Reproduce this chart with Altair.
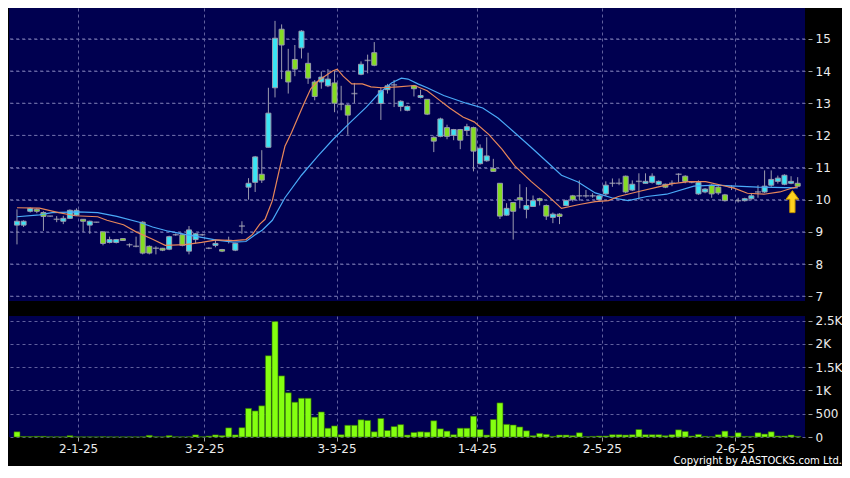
import altair as alt
import pandas as pd

# ---------------- data ----------------
opens = [9.21, 9.21, 9.64, 9.70, 9.60, 9.49, 9.39, 9.33, 9.42, 9.52,
         9.39, 9.21, 9.30, 9.00, 8.67, 8.67, 8.79, 8.60, 8.55, 9.30,
         8.55, 8.49, 8.49, 8.46, 8.91, 8.91, 8.40, 8.76, 8.91, 8.49,
         8.58, 8.45, 8.73, 8.43, 9.18, 10.39, 10.54, 10.79, 11.63, 13.48,
         15.30, 14.00, 14.36, 14.72, 14.24, 13.66, 13.66, 13.54, 13.63, 12.97,
         12.94, 13.30, 13.90, 14.33, 14.57, 12.99, 13.42, 13.57, 12.90, 12.78,
         13.54, 13.18, 13.12, 11.94, 11.97, 12.24, 12.00, 12.18, 12.15, 12.24,
         11.12, 11.21, 10.97, 10.51, 9.52, 9.91, 10.06, 9.70, 9.79, 10.03,
         9.82, 9.45, 9.55, 9.82, 10.12, 10.12, 10.12, 10.12, 10.00, 10.18,
         10.51, 10.51, 10.73, 10.30, 10.57, 10.51, 10.54, 10.48, 10.48, 10.51,
         10.79, 10.73, 10.54, 10.18, 10.24, 10.45, 10.39, 10.15, 10.39, 9.97,
         9.97, 10.03, 10.24, 10.24, 10.45, 10.57, 10.48, 10.51, 10.51]
highs = [9.70, 9.36, 9.76, 9.73, 9.64, 9.50, 9.49, 9.50, 9.70, 9.73,
         9.40, 9.35, 9.31, 9.00, 8.85, 8.78, 8.80, 8.64, 8.85, 9.33,
         8.58, 8.55, 8.50, 8.88, 8.95, 8.94, 9.18, 8.97, 8.94, 8.52,
         8.76, 8.47, 8.85, 8.66, 9.33, 10.67, 11.36, 11.54, 13.48, 15.56,
         15.45, 14.69, 14.81, 15.27, 14.57, 13.72, 13.99, 14.06, 14.00, 13.54,
         12.97, 13.63, 14.30, 14.51, 14.90, 13.48, 13.60, 13.72, 13.09, 12.93,
         13.57, 13.42, 13.12, 11.97, 12.55, 12.33, 12.20, 12.20, 12.36, 12.27,
         11.72, 11.94, 11.27, 10.51, 9.89, 9.93, 10.48, 10.39, 10.13, 10.06,
         9.85, 9.60, 9.58, 10.00, 10.15, 10.60, 10.30, 10.20, 10.15, 10.57,
         10.66, 10.66, 10.75, 10.60, 10.82, 10.82, 10.82, 10.60, 10.50, 10.60,
         10.82, 10.76, 10.57, 10.60, 10.36, 10.48, 10.42, 10.18, 10.45, 10.06,
         10.06, 10.21, 10.45, 10.91, 10.91, 10.75, 10.79, 10.73, 10.70]
lows = [8.61, 9.15, 9.60, 9.58, 9.03, 9.47, 9.30, 9.24, 9.40, 9.50,
        9.00, 8.94, 9.29, 8.58, 8.64, 8.64, 8.72, 8.52, 8.52, 8.30,
        8.30, 8.30, 8.40, 8.43, 8.88, 8.55, 8.30, 8.64, 8.88, 8.46,
        8.52, 8.37, 8.64, 8.40, 8.94, 10.00, 10.24, 10.52, 11.63, 13.18,
        13.75, 13.30, 13.84, 14.39, 13.60, 13.09, 13.45, 13.50, 12.72, 12.78,
        12.02, 13.00, 13.87, 13.93, 14.15, 12.48, 13.30, 12.88, 12.75, 12.75,
        13.21, 13.15, 12.63, 11.48, 11.94, 11.88, 11.85, 11.57, 12.00, 10.88,
        11.09, 11.18, 10.88, 9.40, 9.50, 8.76, 9.73, 9.42, 9.79, 9.82,
        9.37, 9.27, 9.24, 9.80, 9.94, 9.97, 10.06, 10.06, 9.97, 10.12,
        10.40, 10.45, 10.20, 10.27, 10.00, 10.50, 10.50, 10.45, 10.36, 10.42,
        10.54, 10.51, 10.51, 10.15, 10.20, 10.06, 10.15, 9.94, 10.30, 9.91,
        9.94, 10.00, 10.06, 10.20, 10.40, 10.50, 10.45, 10.48, 10.40]
closes = [9.33, 9.33, 9.73, 9.64, 9.48, 9.49, 9.39, 9.42, 9.67, 9.67,
          9.33, 9.33, 9.30, 8.64, 8.76, 8.76, 8.73, 8.60, 8.55, 8.34,
          8.34, 8.49, 8.43, 8.85, 8.91, 8.58, 9.06, 8.94, 8.91, 8.49,
          8.64, 8.40, 8.73, 8.64, 9.18, 10.51, 11.33, 10.61, 12.69, 15.02,
          14.81, 13.66, 14.06, 15.24, 13.78, 13.21, 13.81, 13.75, 13.00, 12.97,
          12.63, 13.30, 14.21, 14.33, 14.18, 13.39, 13.54, 13.57, 13.06, 12.90,
          13.45, 13.24, 12.66, 11.82, 12.51, 11.97, 12.18, 11.85, 12.27, 11.51,
          11.60, 11.36, 10.88, 9.49, 9.73, 9.64, 10.00, 9.82, 9.97, 9.97,
          9.49, 9.55, 9.48, 9.97, 10.00, 10.12, 10.12, 10.12, 10.12, 10.45,
          10.51, 10.51, 10.24, 10.48, 10.57, 10.57, 10.73, 10.57, 10.39, 10.51,
          10.79, 10.57, 10.54, 10.54, 10.33, 10.18, 10.21, 9.97, 10.39, 9.97,
          10.03, 10.12, 10.24, 10.42, 10.63, 10.67, 10.76, 10.57, 10.42]
volumes = [112, 12, 10, 14, 14, 5, 5, 4, 28, 5,
           4, 4, 3, 6, 4, 3, 3, 4, 3, 5,
           35, 6, 4, 30, 5, 4, 6, 45, 5, 20,
           45, 30, 196, 45, 200, 615, 560, 670, 1746, 2480,
           1313, 950, 748, 832, 832, 426, 538, 189, 238, 49,
           252, 252, 370, 356, 112, 398, 140, 224, 266, 42,
           98, 112, 105, 349, 175, 126, 49, 189, 189, 447,
           161, 42, 377, 733, 272, 258, 216, 133, 28, 77,
           56, 14, 42, 42, 28, 91, 7, 14, 21, 21,
           49, 49, 42, 49, 161, 49, 49, 49, 28, 49,
           154, 119, 21, 56, 14, 7, 49, 126, 14, 91,
           14, 14, 91, 63, 112, 21, 21, 42, 14]

# moving averages (position in trading-day index, value)
fast_idx = [0, 3.4, 6.3, 8.8, 12.2, 13.6, 16.1, 18, 20.5, 22.4, 25.4, 27.9,
            30.2, 32.7, 34.6, 35.6, 36.7, 37.5, 38.6, 39.6, 40.5, 41.5, 42.5,
            43.4, 44.4, 45.5, 46.3, 47.7, 48.4, 49.3, 50.6, 52.2, 53.5, 55.1,
            57.6, 60.1, 62, 63.5, 65.4, 67.4, 69.1, 71.3, 73.3, 75.2, 77.7,
            80.1, 82.3, 85, 87.4, 89.4, 90.9, 94.3, 96.8, 99.1, 101.6, 104.1,
            106.5, 108.5, 110.4, 112.9, 115.3, 117.3, 118]
fast_val = [9.75, 9.74, 9.6, 9.5, 9.47, 9.36, 9.22, 9.0, 8.77, 8.58, 8.6, 8.67,
            8.75, 8.73, 8.76, 8.92, 9.24, 9.39, 9.97, 10.88, 11.66, 12.09, 12.57,
            13.0, 13.45, 13.69, 13.81, 14.0, 14.06, 13.84, 13.6, 13.6, 13.51, 13.48,
            13.51, 13.55, 13.39, 13.15, 12.85, 12.57, 12.42, 12.03, 11.57, 11.06, 10.57,
            10.15, 9.73, 9.85, 9.94, 9.97, 10.1, 10.27, 10.39, 10.5, 10.56, 10.56,
            10.45, 10.35, 10.2, 10.17, 10.24, 10.37, 10.4]
slow_idx = [0, 3.4, 5.3, 9.2, 12.2, 15.1, 18.5, 20.5, 22.9, 25.4, 27.9, 30.2,
            32.7, 34.6, 36, 37.1, 38.6, 40.5, 43, 45.5, 47.8, 50.3, 52.8, 54.7,
            56.6, 58.1, 59.1, 60.6, 62, 64.5, 67.9, 70.4, 72.7, 75.2, 77.7, 80.1,
            82.3, 84.8, 87.4, 89.9, 92.4, 95.2, 98.2, 102.3, 105.6, 108.7, 112, 118]
slow_val = [9.47, 9.53, 9.6, 9.62, 9.6, 9.48, 9.3, 9.15, 9.02, 8.92, 8.83, 8.74,
            8.68, 8.7, 8.91, 9.06, 9.36, 10.06, 10.76, 11.36, 11.88, 12.39, 12.88, 13.3,
            13.63, 13.78, 13.75, 13.6, 13.48, 13.24, 13.0, 12.85, 12.54, 12.09, 11.63, 11.18,
            10.76, 10.55, 10.21, 10.06, 9.97, 10.1, 10.17, 10.42, 10.45, 10.42, 10.39, 10.37]

tick_idx = [9.24, 28.3, 48.3, 69.5, 88.4, 108.5]
tick_labels = ["2-1-25", "3-2-25", "3-3-25", "1-4-25", "2-5-25", "2-6-25"]
price_ticks = [7, 8, 9, 10, 11, 12, 13, 14, 15]
vol_ticks = [0, 500, 1000, 1500, 2000, 2500]
vol_tick_labels = ["0", "500", "1K", "1.5K", "2K", "2.5K"]
arrow_idx = [117.2]
arrow_price = [9.94]

# ---------------- frames ----------------
n = len(opens)
direction = ["up" if c > o else ("down" if c < o else "flat") for o, c in zip(opens, closes)]
df = pd.DataFrame({"i": list(range(n)), "open": opens, "high": highs, "low": lows,
                   "close": closes, "vol": volumes, "dir": direction})
fast_df = pd.DataFrame({"i": fast_idx, "ma": fast_val})
slow_df = pd.DataFrame({"i": slow_idx, "ma": slow_val})
arrow_df = pd.DataFrame({"i": arrow_idx, "p": arrow_price})
grid_df = pd.DataFrame({"p": price_ticks})


def label_expr(vals, labs):
    expr = "''"
    for v, lab in reversed(list(zip(vals, labs))):
        expr = f"abs(datum.value - {v}) < 0.01 ? '{lab}' : " + expr
    return expr


W = 796
H_MAIN = 293
H_VOL = 121
GRID = "#6a6aa6"

xscale = alt.Scale(domain=[-0.45, 118.35], nice=False, zero=False)
pscale = alt.Scale(domain=[6.85, 15.96], nice=False, zero=False)
vscale = alt.Scale(domain=[0, 2600], nice=False, zero=False)

main_xaxis = alt.Axis(values=tick_idx, labels=False, ticks=False, domain=False,
                      grid=True, title=None)
main_yaxis = alt.Axis(orient="right", values=price_ticks, format="d", title=None,
                      grid=True, domain=False, tickSize=4, offset=3, labelPadding=3)


def X(field="i:Q"):
    return alt.X(field, scale=xscale, axis=main_xaxis)


def Y(field):
    return alt.Y(field, scale=pscale, axis=main_yaxis)


wick_col = "#9a9aae"

# horizontal price grid drawn from the tick values
hgrid = alt.Chart(grid_df).mark_rule(color=GRID, strokeDash=[3, 3], strokeWidth=1,
                                     opacity=0.9).encode(y=Y("p:Q"))

wicks = alt.Chart(df).mark_rule(color=wick_col, strokeWidth=1).encode(
    x=X(), y=Y("low:Q"), y2="high:Q")
bodies = alt.Chart(df).transform_filter("datum.dir != 'flat'").mark_bar(
    size=5, stroke=wick_col, strokeWidth=1
).encode(
    x=X(), y=Y("open:Q"), y2="close:Q",
    color=alt.Color("dir:N", scale=alt.Scale(domain=["up", "down"],
                                             range=["#3ae4f4", "#84dc22"]), legend=None),
)
dojis = alt.Chart(df).transform_filter("datum.dir == 'flat'").mark_tick(
    orient="horizontal", size=6, thickness=1.5, color="#a8a8b8"
).encode(x=X(), y=Y("close:Q"))
fast_line = alt.Chart(fast_df).mark_line(color="#e8875a", strokeWidth=1.2).encode(
    x=X(), y=Y("ma:Q"))
slow_line = alt.Chart(slow_df).mark_line(color="#4aaaf8", strokeWidth=1.2).encode(
    x=X(), y=Y("ma:Q"))

arrow_path = "M0,-1L0.58,-0.22L0.24,-0.22L0.24,1L-0.24,1L-0.24,-0.22L-0.58,-0.22Z"
arrow = alt.Chart(arrow_df).mark_point(
    shape=arrow_path, size=484, filled=True, fill="#ffd21f", stroke="#c09000",
    strokeWidth=1, opacity=1
).encode(x=X(), y=Y("p:Q"))

main = alt.layer(hgrid, wicks, bodies, dojis, slow_line, fast_line, arrow).properties(
    width=W, height=H_MAIN)

vol = alt.Chart(df).mark_bar(size=6, color="#84ff10", stroke="#2e6a00", strokeWidth=0.6).encode(
    x=alt.X("i:Q", scale=xscale,
            axis=alt.Axis(values=tick_idx, labelExpr=label_expr(tick_idx, tick_labels),
                          grid=True, domain=False, ticks=True, tickSize=4, labelPadding=2,
                          title=None)),
    y=alt.Y("vol:Q", scale=vscale,
            axis=alt.Axis(orient="right", values=vol_ticks,
                          labelExpr=label_expr(vol_ticks, vol_tick_labels),
                          title=None, grid=True, domain=False, tickSize=4, offset=3,
                          labelPadding=3)),
).properties(width=W, height=H_VOL)

chart = alt.vconcat(main, vol, spacing=11).properties(
    title=alt.TitleParams("Copyright by AASTOCKS.com Ltd.", orient="bottom", anchor="end",
                          fontSize=10, color="#ffffff", font="DejaVu Sans",
                          fontWeight="normal", offset=2),
    padding={"left": 0, "top": 0, "right": 0, "bottom": 0},
    background="#000000",
).configure_view(
    fill="#000050", strokeWidth=0
).configure_axis(
    gridColor=GRID, gridDash=[3, 3], gridWidth=1, gridOpacity=0.9,
    labelColor="#ececec", labelFont="DejaVu Sans", labelFontSize=12,
    tickColor="#a0a0a0", tickWidth=1
)

chart.save("out.html", embed_options={"renderer": "svg", "actions": False})
